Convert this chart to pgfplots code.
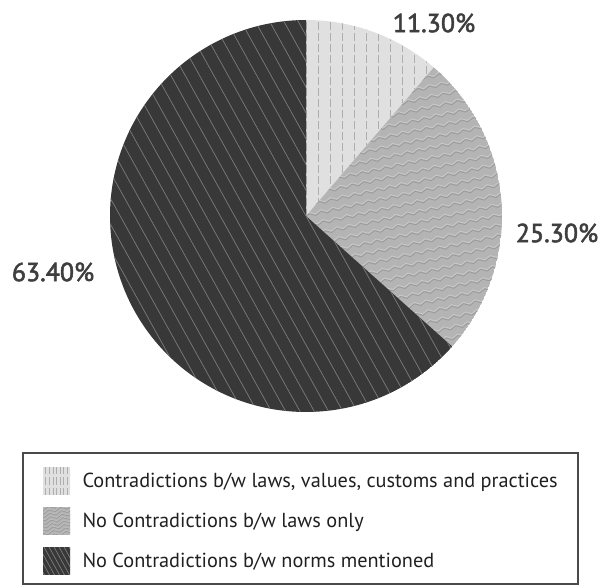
\documentclass[border=0pt]{standalone}
\usepackage{pgfplots}
\pgfplotsset{compat=1.18}
\usepackage{pgfplotstable}
\usetikzlibrary{decorations.pathmorphing}
\usepackage{fontspec}
\setmainfont{PT Sans}
\newcommand\heavy[1]{\special{pdf:literal direct 2 Tr 0.55 w}#1\special{pdf:literal direct 0 Tr}}

\definecolor{lightfill}{HTML}{E0E0E0}
\definecolor{lightline}{HTML}{AEAEAE}
\definecolor{midfill}{HTML}{B4B4B4}
\definecolor{midline}{HTML}{9C9C9C}
\definecolor{midhi}{HTML}{C8C8C8}
\definecolor{darkfill}{HTML}{383838}
\definecolor{darkline}{HTML}{7C7C7C}
\definecolor{labeltext}{HTML}{3E3E3E}
\definecolor{legendtext}{HTML}{202020}
\definecolor{framecol}{HTML}{4A4A4A}

\pgfplotstableread{
slice pct
1 11.3
2 25.3
3 63.4
}\piedata

\newcommand\patLight[2]{%
  \foreach \i in {-#1,...,#1}{\draw[lightline, line width=0.8pt, dash pattern=on 8pt off 3pt] ({\i*12pt},-#2) -- ({\i*12pt},#2);}}
\newcommand\patMid[2]{%
  \foreach \i in {-#1,...,#1}{%
    \draw[midhi, line width=0.9pt, decorate, decoration={snake, amplitude=1.5pt, segment length=12pt}, rotate=12] (-#2,{\i*10pt+1.5pt}) -- (#2,{\i*10pt+1.5pt});
    \draw[midline, line width=0.9pt, decorate, decoration={snake, amplitude=1.5pt, segment length=12pt}, rotate=12] (-#2,{\i*10pt}) -- (#2,{\i*10pt});}}
\newcommand\patDark[2]{%
  \foreach \i in {-#1,...,#1}{\draw[darkline, line width=0.7pt, rotate=-61] (-#2,{\i*12.5pt}) -- (#2,{\i*12.5pt});}}

\begin{document}
\begin{tikzpicture}
\begin{axis}[
  at={(0,0)}, anchor=south west,
  width=604pt, height=586pt, scale only axis,
  xmin=0, xmax=604, ymin=0, ymax=586,
  enlargelimits=false, hide axis, clip=false]
\addplot[draw=none] coordinates {(0,0)};
\pgfplotsextra{%
  \pgfplotstablegetelem{0}{pct}\of\piedata \pgfmathsetmacro\pa{\pgfplotsretval}%
  \pgfplotstablegetelem{1}{pct}\of\piedata \pgfmathsetmacro\pb{\pgfplotsretval}%
  \pgfplotstablegetelem{2}{pct}\of\piedata \pgfmathsetmacro\pc{\pgfplotsretval}%
  \pgfmathsetmacro\aA{90}%
  \pgfmathsetmacro\aB{\aA-3.6*\pa}%
  \pgfmathsetmacro\aC{\aB-3.6*\pb}%
  \pgfmathsetmacro\aD{\aC-3.6*\pc}%
  \def\R{196pt}%
  \coordinate (c) at (axis cs:306,370);
  % slice 1
  \begin{scope}
    \clip (c) -- ++(\aA:\R) arc[start angle=\aA, end angle=\aB, radius=\R] -- cycle;
    \fill[lightfill] (c) circle[radius=\R];
    \begin{scope}[shift={(c)}]\patLight{18}{210pt}\end{scope}
  \end{scope}
  % slice 2
  \begin{scope}
    \clip (c) -- ++(\aB:\R) arc[start angle=\aB, end angle=\aC, radius=\R] -- cycle;
    \fill[midfill] (c) circle[radius=\R];
    \begin{scope}[shift={(c)}]\patMid{22}{240pt}\end{scope}
  \end{scope}
  % slice 3
  \begin{scope}
    \clip (c) -- ++(\aC:\R) arc[start angle=\aC, end angle=\aD, radius=\R] -- cycle;
    \fill[darkfill] (c) circle[radius=\R];
    \begin{scope}[shift={(c)}]\patDark{18}{240pt}\end{scope}
  \end{scope}
  % labels
  \node[labeltext, font=\fontsize{26}{30}\selectfont] at (axis cs:434,563) {\heavy{11.30\%}};
  \node[labeltext, font=\fontsize{26}{30}\selectfont] at (axis cs:557,353) {\heavy{25.30\%}};
  \node[labeltext, font=\fontsize{26}{30}\selectfont] at (axis cs:53,314) {\heavy{63.40\%}};
  % legend
  \draw[framecol, line width=1.2pt] (axis cs:23,133) rectangle (axis cs:578,2);
  \coordinate (s1) at (axis cs:56.5,105.5);
  \coordinate (s2) at (axis cs:56.5,65.5);
  \coordinate (s3) at (axis cs:56.5,25.5);
  \begin{scope}
    \clip ([shift={(-13.5pt,-13.5pt)}]s1) rectangle ([shift={(13.5pt,13.5pt)}]s1);
    \fill[lightfill] ([shift={(-14pt,-14pt)}]s1) rectangle ([shift={(14pt,14pt)}]s1);
    \begin{scope}[shift={(s1)}, scale=0.3]\patLight{6}{50pt}\end{scope}
  \end{scope}
  \begin{scope}
    \clip ([shift={(-13.5pt,-13.5pt)}]s2) rectangle ([shift={(13.5pt,13.5pt)}]s2);
    \fill[midfill] ([shift={(-14pt,-14pt)}]s2) rectangle ([shift={(14pt,14pt)}]s2);
    \begin{scope}[shift={(s2)}, scale=0.35]\patMid{7}{60pt}\end{scope}
  \end{scope}
  \begin{scope}
    \clip ([shift={(-13.5pt,-13.5pt)}]s3) rectangle ([shift={(13.5pt,13.5pt)}]s3);
    \fill[darkfill] ([shift={(-14pt,-14pt)}]s3) rectangle ([shift={(14pt,14pt)}]s3);
    \begin{scope}[shift={(s3)}, scale=0.35]\patDark{8}{70pt}\end{scope}
  \end{scope}
  \node[legendtext, anchor=west, font=\fontsize{20.3}{24}\selectfont] at (axis cs:79,104) {Contradictions b/w laws, values, customs and practices};
  \node[legendtext, anchor=west, font=\fontsize{20.3}{24}\selectfont] at (axis cs:79,64) {No Contradictions b/w laws only};
  \node[legendtext, anchor=west, font=\fontsize{20.3}{24}\selectfont] at (axis cs:79,24) {No Contradictions b/w norms mentioned};
}
\end{axis}
\pgfresetboundingbox
\path (current axis.south west) rectangle (current axis.north east);
\end{tikzpicture}
\end{document}
